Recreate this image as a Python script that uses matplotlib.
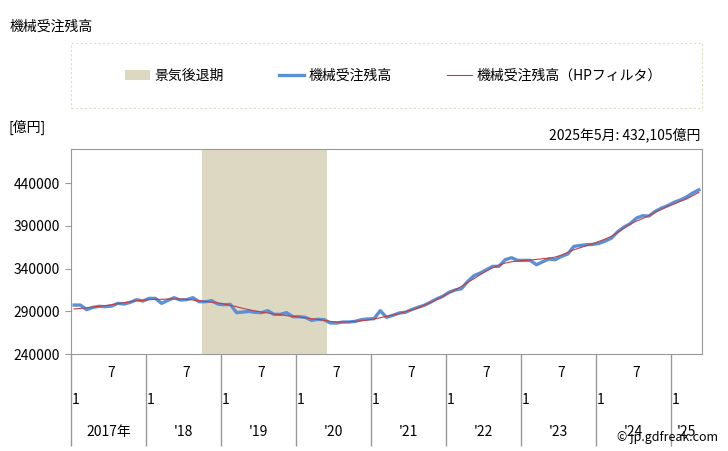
import matplotlib.pyplot as plt
from matplotlib.patches import Rectangle, Patch
from matplotlib.lines import Line2D

plt.rcParams['font.family'] = ['Noto Sans CJK JP', 'DejaVu Sans']

# monthly data, 2017-01 .. 2025-05 (億円)
backlog = [
    297300, 297300, 291900, 294600, 295800, 295400, 296200, 299300, 298500, 300500,
    303600, 302000, 305100, 305100, 299300, 302800, 305900, 303200, 303600, 305900,
    301200, 301200, 302400, 298500, 297700, 298100, 288400, 289100, 289900, 288800,
    288400, 290700, 286400, 286400, 288400, 283700, 283700, 282900, 279400, 280600,
    280200, 276300, 276300, 277400, 277400, 278200, 280200, 281000, 281300, 290700,
    282900, 285200, 288000, 288800, 291900, 294600, 296900, 300500, 304400, 307500,
    312200, 314900, 316400, 325000, 331700, 334800, 338700, 342600, 342600, 350400,
    352700, 349600, 349600, 349600, 344500, 348000, 351200, 350400, 354300, 357000,
    366000, 367100, 367900, 368300, 369500, 372200, 375700, 383100, 388600, 392500,
    399100, 401900, 401500, 406900, 410800, 413600, 417500, 420200, 423700, 428400,
    432105,
]
backlog_hp = [
    292700, 293400, 294200, 295000, 295800, 296600, 297700, 298900, 300100, 301200,
    302400, 302800, 303600, 304000, 304000, 304400, 304400, 304400, 304000, 303200,
    302400, 301600, 300500, 299700, 298500, 296900, 295400, 293400, 291900, 290300,
    289100, 288000, 286800, 286000, 284900, 284100, 283300, 282500, 281300, 280600,
    279400, 278200, 277400, 277400, 277800, 278200, 279000, 279800, 281000, 282500,
    284100, 285600, 287200, 289500, 291500, 293800, 296900, 300100, 303600, 307500,
    311400, 315300, 319200, 323900, 328100, 332800, 337100, 341000, 344100, 346500,
    348000, 348800, 349600, 350000, 350800, 351500, 352300, 353500, 355800, 359000,
    362100, 364400, 366800, 369100, 371800, 374600, 377700, 382400, 387400, 392100,
    395600, 398700, 401900, 405800, 409300, 412800, 415500, 418600, 421400, 425300,
    429200,
]
year_labels = ["2017年", "'18", "'19", "'20", "'21", "'22", "'23", "'24", "'25"]
recession = (21, 40)  # 2018-10 .. 2020-05, month index
y_ticks = [240000, 290000, 340000, 390000, 440000]

months = list(range(len(backlog)))

fig = plt.figure(figsize=(7.28, 4.51), dpi=100)
ax = fig.add_axes([71 / 728, 1 - 354 / 451, 631 / 728, 205 / 451])

ax.axvspan(recession[0] - 0.5, recession[1] + 0.5, color="#ddd8c2", lw=0)
ax.plot(months, backlog, color="#5b8fd6", lw=2.4, solid_joinstyle="round")
ax.plot(months, backlog_hp, color="#c83c3c", lw=0.8)

ax.set_xlim(-0.5, len(backlog) - 0.5)
ax.set_ylim(240000, 480000)
ax.set_yticks(y_ticks)
ax.set_yticklabels([str(v) for v in y_ticks], fontsize=10)
ax.tick_params(axis="y", length=4, color="#999999", pad=4)
ax.set_xticks([])
for s in ax.spines.values():
    s.set_color("#999999")

# x-axis: month and year rows, separators between years
tr = ax.get_xaxis_transform()
for k, lab in enumerate(year_labels):
    start = 12 * k - 0.5
    ax.vlines(start, -0.45, 0, transform=tr, color="#999999", lw=1, clip_on=False)
    ax.text(start + 0.1, -0.224, "1", transform=tr, ha="left", va="center", fontsize=10)
    if 12 * k + 6 < len(backlog):
        ax.text(12 * k + 6, -0.093, "7", transform=tr, ha="center", va="center", fontsize=10)
    mid = min(12 * k + 5.5, (start + len(backlog) - 0.5) / 2)
    ax.text(mid, -0.38, lab, transform=tr, ha="center", va="center", fontsize=10)

# texts around the plot
fig.text(10 / 728, 1 - 27 / 451, "機械受注残高", ha="left", va="center", fontsize=10)
fig.text(8 / 728, 1 - 127 / 451, "[億円]", ha="left", va="center", fontsize=10)
fig.text(700 / 728, 1 - 135 / 451, "2025年5月: 432,105億円", ha="right", va="center", fontsize=10)
fig.text(718 / 728, 1 - 437 / 451, "© jp.gdfreak.com", ha="right", va="center", fontsize=9)

# legend with dashed box
fig.patches.append(Rectangle((71 / 728, 1 - 108 / 451), 631 / 728, 65 / 451,
                             transform=fig.transFigure, fill=False,
                             edgecolor="#e0dcc0", lw=0.8, ls=(0, (2, 2))))
handles = [
    Patch(facecolor="#ddd8c2", edgecolor="none"),
    Line2D([], [], color="#5b8fd6", lw=2.4),
    Line2D([], [], color="#c83c3c", lw=0.8),
]
labels = ["景気後退期", "機械受注残高", "機械受注残高（HPフィルタ）"]
fig.legend(handles, labels, loc="center", bbox_to_anchor=(0.54, 1 - 76 / 451),
           ncol=3, frameon=False, fontsize=10, handlelength=1.8, handletextpad=0.3,
           columnspacing=4)

plt.savefig("out.png", dpi=100)
plt.close()
